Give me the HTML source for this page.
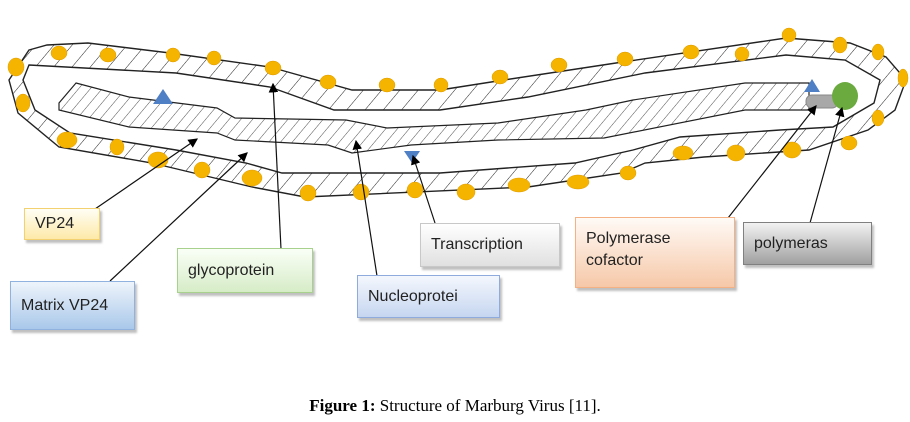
<!DOCTYPE html>
<html><head><meta charset="utf-8"><style>
body{margin:0;background:#fff;width:910px;height:422px;overflow:hidden;position:relative;font-family:"Liberation Sans",sans-serif}
.b{position:absolute;box-sizing:border-box;font-size:16px;color:#222;padding:0 10px;display:flex;align-items:center;box-shadow:2px 3px 2px rgba(0,0,0,.25)}
.cap{position:absolute;left:0;width:910px;top:396px;text-align:center;font-family:"Liberation Serif",serif;font-size:17px}
</style></head><body>
<svg width="910" height="422" style="position:absolute;left:0;top:0">
<defs>
<pattern id="h" width="14" height="14" patternUnits="userSpaceOnUse" patternTransform="rotate(40)"><line x1="0" y1="0" x2="0" y2="14" stroke="#222" stroke-width="1"/></pattern>
<pattern id="h2" width="9" height="9" patternUnits="userSpaceOnUse" patternTransform="rotate(40)"><line x1="0" y1="0" x2="0" y2="9" stroke="#222" stroke-width="0.8"/></pattern>
<marker id="a" markerWidth="8" markerHeight="8" refX="7" refY="4" orient="auto"><path d="M0,0L8,4L0,8z" fill="#000"/></marker>
</defs>
<path fill="url(#h)" fill-rule="evenodd" stroke="#222" stroke-width="1.4" d="M29,50 L47,45 L88,43 L170,53 L270,67 L352,90 L440,90 L504,80 L616,63 L786,38 L850,43 L886,57 L906,80 L895,110 L868,130 L809,150 L704,157 L645,163 L622,173 L528,187 L305,197 L252,187 L152,163 L59,147 L18,113 L9,80 Z
M29,65 L176,73 L270,87 L334,110 L440,110 L528,97 L645,73 L786,55 L845,60 L880,80 L874,103 L833,127 L780,130 L680,137 L633,150 L575,163 L440,173 L282,173 L246,163 L176,150 L70,133 L35,110 L23,80 Z"/>
<path fill="url(#h2)" stroke="#222" stroke-width="1.2" d="M76,83 L129,97 L217,108 L235,118 L346,120 L387,128 L498,123 L586,110 L633,100 L745,83 L809,83 L809,110 L745,110 L604,138 L498,140 L411,145 L352,153 L328,145 L235,140 L217,133 L129,127 L59,110 L59,103 Z"/>
<g fill="#f5b400" stroke="#e09a00" stroke-width="0.5">
<ellipse cx="16" cy="67" rx="8" ry="9"/><ellipse cx="59" cy="53" rx="8" ry="7"/><ellipse cx="108" cy="55" rx="8" ry="7"/><ellipse cx="173" cy="55" rx="7" ry="7"/><ellipse cx="214" cy="58" rx="7" ry="7"/><ellipse cx="273" cy="68" rx="8" ry="7"/><ellipse cx="328" cy="82" rx="8" ry="7"/><ellipse cx="387" cy="85" rx="8" ry="7"/><ellipse cx="441" cy="85" rx="7" ry="7"/><ellipse cx="500" cy="77" rx="8" ry="7"/><ellipse cx="559" cy="65" rx="8" ry="7"/><ellipse cx="625" cy="59" rx="8" ry="7"/><ellipse cx="691" cy="52" rx="8" ry="7"/><ellipse cx="742" cy="54" rx="7" ry="7"/><ellipse cx="789" cy="35" rx="7" ry="7"/><ellipse cx="840" cy="45" rx="7" ry="8"/><ellipse cx="878" cy="52" rx="6" ry="8"/><ellipse cx="903" cy="78" rx="5" ry="9"/><ellipse cx="878" cy="118" rx="6" ry="8"/><ellipse cx="849" cy="143" rx="8" ry="7"/><ellipse cx="792" cy="150" rx="9" ry="8"/><ellipse cx="736" cy="153" rx="9" ry="8"/><ellipse cx="683" cy="153" rx="10" ry="7"/><ellipse cx="628" cy="173" rx="8" ry="7"/><ellipse cx="578" cy="182" rx="11" ry="7"/><ellipse cx="519" cy="185" rx="11" ry="7"/><ellipse cx="466" cy="192" rx="9" ry="8"/><ellipse cx="415" cy="190" rx="8" ry="8"/><ellipse cx="361" cy="192" rx="8" ry="8"/><ellipse cx="308" cy="193" rx="8" ry="8"/><ellipse cx="252" cy="178" rx="10" ry="8"/><ellipse cx="202" cy="170" rx="8" ry="8"/><ellipse cx="158" cy="160" rx="10" ry="8"/><ellipse cx="117" cy="147" rx="7" ry="8"/><ellipse cx="67" cy="140" rx="10" ry="8"/><ellipse cx="23" cy="103" rx="7" ry="9"/>
</g>
<path d="M163,89 L173,104 L153,104Z" fill="#4f7fc4"/>
<path d="M404,151 L420,151 L412,163Z" fill="#4f7fc4"/>
<path d="M812,79 L820,92 L804,92Z" fill="#4f7fc4"/>
<rect x="806" y="95" width="32" height="13" rx="6" fill="#a8a8a8" stroke="#888"/>
<ellipse cx="845" cy="96" rx="13" ry="14" fill="#6aaa3e"/>
<g stroke="#111" stroke-width="1.2" fill="none" marker-end="url(#a)">
<line x1="95" y1="209" x2="197" y2="139"/>
<line x1="110" y1="281" x2="247" y2="153"/>
<line x1="281" y1="249" x2="273" y2="84"/>
<line x1="377" y1="276" x2="356" y2="141"/>
<line x1="435" y1="223" x2="413" y2="156"/>
<line x1="728" y1="218" x2="816" y2="106"/>
<line x1="810" y1="223" x2="842" y2="108"/>
</g>
</svg>
<div class="b" style="left:24px;top:208px;width:76px;height:32px;background:linear-gradient(#fffef5,#fde9a8);border:1px solid #f3d070">VP24</div>
<div class="b" style="left:10px;top:281px;width:125px;height:49px;background:linear-gradient(#eef4fb,#a9c8ea);border:1px solid #8fb2de">Matrix VP24</div>
<div class="b" style="left:177px;top:248px;width:136px;height:45px;background:linear-gradient(#fafff7,#d6ecc7);border:1px solid #a9d18e">glycoprotein</div>
<div class="b" style="left:357px;top:275px;width:143px;height:43px;background:linear-gradient(#f4f7fd,#c6d6f0);border:1px solid #8faadc">Nucleoprotei</div>
<div class="b" style="left:420px;top:223px;width:140px;height:44px;background:linear-gradient(#fff,#e0e0e0);border:1px solid #c8c8c8">Transcription</div>
<div class="b" style="left:575px;top:217px;width:160px;height:71px;background:linear-gradient(#fffaf6,#f6c8a8);border:1px solid #f4b183;align-items:flex-start;padding-top:10px;line-height:22px">Polymerase<br>cofactor</div>
<div class="b" style="left:743px;top:222px;width:129px;height:43px;background:linear-gradient(#f2f2f2,#a0a0a0);border:1px solid #808080">polymeras</div>
<div class="cap"><b>Figure 1:</b> Structure of Marburg Virus [11].</div>
</body></html>
